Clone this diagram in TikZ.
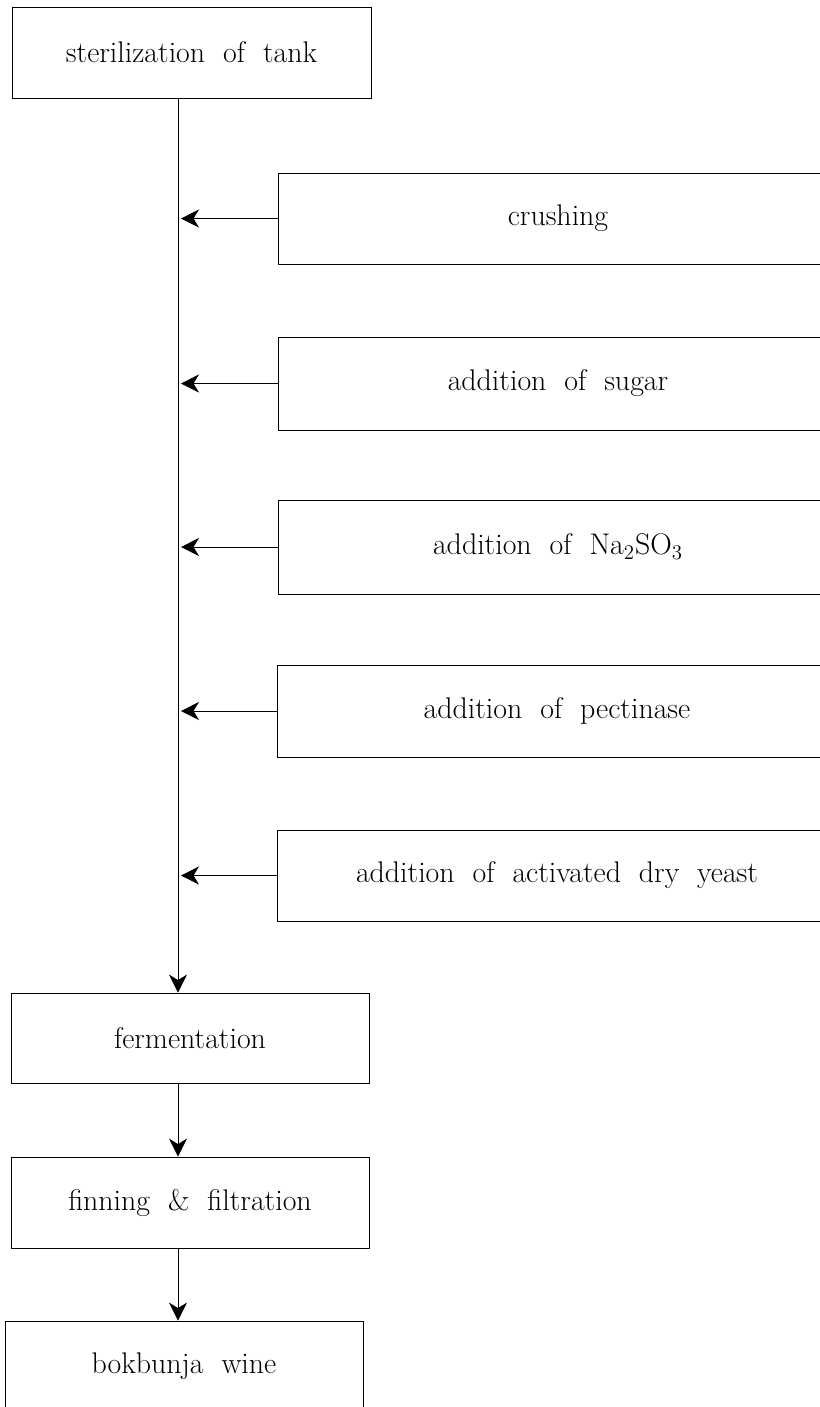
\documentclass[tikz,border=0pt]{standalone}
\usetikzlibrary{arrows.meta}
\newcommand{\boxfont}{\fontsize{17}{20}\selectfont\spaceskip 0.6em\relax}
\tikzset{
    stepbox/.style={draw=black, line width=0.5pt, fill=white, minimum height=1.82cm,
        inner sep=0pt, font=\boxfont},
    flow/.style={draw=black, line width=0.5pt, -{Stealth[length=0.36cm, width=0.36cm, inset=0.11cm]}}
}
\begin{document}
\begin{tikzpicture}[x=0.02cm, y=-0.02cm]
    \useasboundingbox (0,0) rectangle (819,1407);

    \node[stepbox, minimum width=7.18cm] (steril) at (191.5,52.5) {sterilization of tank};
    \node[stepbox, minimum width=11.2cm] (crush) at (558,218.5) {crushing};
    \node[stepbox, minimum width=11.2cm, minimum height=1.86cm] (sugar) at (558,383.5) {addition of sugar};
    \node[stepbox, minimum width=11.2cm, minimum height=1.88cm] (sulfite) at (558,547) {addition of Na\textsubscript{2}SO\textsubscript{3}};
    \node[stepbox, minimum width=11.2cm, minimum height=1.84cm] (pectin) at (557,711) {addition of pectinase};
    \node[stepbox, minimum width=11.2cm] (yeast) at (557,875.5) {addition of activated dry yeast};
    \node[stepbox, minimum width=7.16cm, minimum height=1.8cm] (ferm) at (190,1038) {fermentation};
    \node[stepbox, minimum width=7.16cm] (fin) at (190,1202.5) {finning \& filtration};
    \node[stepbox, minimum width=7.16cm, minimum height=1.8cm] (wine) at (184,1366) {bokbunja wine};

    \coordinate (trunk) at (178,98);
    \coordinate (tips) at (181,98);

    \draw[flow] (trunk) -- (trunk |- ferm.north);
    \draw[flow] (crush.west) -- (crush.west -| tips);
    \draw[flow] (sugar.west) -- (sugar.west -| tips);
    \draw[flow] (sulfite.west) -- (sulfite.west -| tips);
    \draw[flow] (pectin.west) -- (pectin.west -| tips);
    \draw[flow] (yeast.west) -- (yeast.west -| tips);
    \draw[flow] (trunk |- ferm.south) -- (trunk |- fin.north);
    \draw[flow] (trunk |- fin.south) -- (trunk |- wine.north);
\end{tikzpicture}
\end{document}
